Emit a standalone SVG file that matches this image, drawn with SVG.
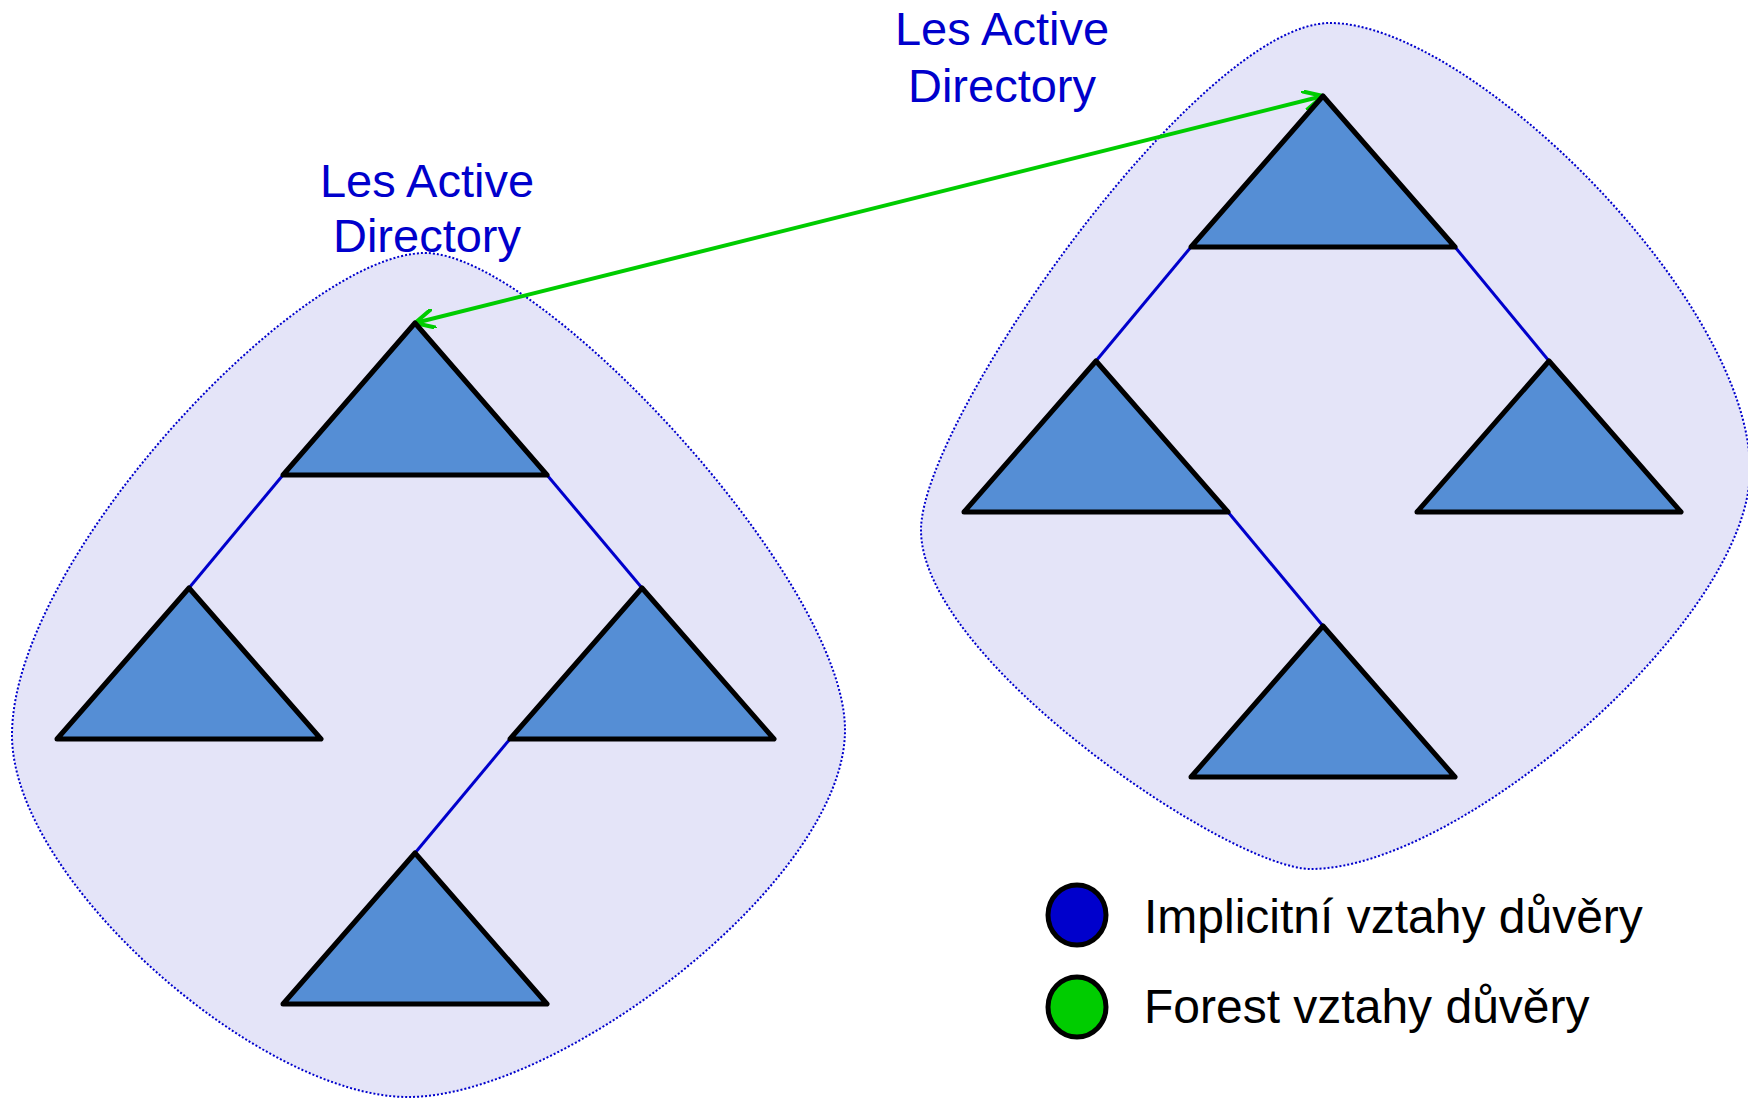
<svg xmlns="http://www.w3.org/2000/svg" width="1748" height="1099" viewBox="0 0 1748 1099">
<style>
.blob{fill:#E4E4F8;stroke:#0000CC;stroke-width:2;stroke-dasharray:2 2}
.tri{fill:#558ED5;stroke:#000;stroke-width:5;stroke-linejoin:round}
.link{stroke:#0000CC;stroke-width:3;fill:none}
.lbl{font-family:"Liberation Sans",Arial,sans-serif;font-size:47px;fill:#0000CC;text-anchor:middle}
.leg{font-family:"Liberation Sans",Arial,sans-serif;font-size:48px;fill:#000}
.dot{stroke:#000;stroke-width:5}
</style>
<defs>
<marker id="vh" viewBox="0 0 22 20" refX="20" refY="10" markerWidth="22" markerHeight="20" markerUnits="userSpaceOnUse" orient="auto-start-reverse">
<path d="M1.5,0.8 L20,10 L1.5,19.2" fill="none" stroke="#00CC00" stroke-width="4" stroke-linecap="round" stroke-linejoin="round"/>
</marker>
</defs>
<g id="forest-left">
<path class="blob" d="M425,253 C540,253 845,580 845,730 C845,880 560,1097 408,1097 C260,1097 12,880 12,735 C12,560 300,253 425,253 Z"/>
</g>
<g id="forest-right">
<path class="blob" d="M1330,23 C1470,23 1750,300 1750,470 C1750,620 1460,869 1311,869 C1230,869 921,660 921,530 C921,420 1200,23 1330,23 Z"/>
</g>
<g id="labels">
<text class="lbl" x="427" y="197">Les Active</text>
<text class="lbl" x="427" y="252">Directory</text>
<text class="lbl" x="1002" y="45">Les Active</text>
<text class="lbl" x="1002" y="102">Directory</text>
</g>
<g id="connectors">
<line class="link" x1="283" y1="475" x2="189" y2="588"/>
<line class="link" x1="547" y1="475" x2="642" y2="588"/>
<line class="link" x1="510" y1="739" x2="415" y2="853"/>
<line class="link" x1="1191" y1="247" x2="1096" y2="361"/>
<line class="link" x1="1455" y1="247" x2="1549" y2="361"/>
<line class="link" x1="1228" y1="512" x2="1323" y2="626"/>
<line x1="415" y1="323" x2="1323" y2="96" stroke="#00CC00" stroke-width="4" marker-start="url(#vh)" marker-end="url(#vh)"/>
</g>
<g id="domain-l1"><polygon class="tri" points="415,323 547,475 283,475"/></g>
<g id="domain-l2"><polygon class="tri" points="189,588 321,739 57,739"/></g>
<g id="domain-l3"><polygon class="tri" points="642,588 774,739 510,739"/></g>
<g id="domain-l4"><polygon class="tri" points="415,853 547,1004 283,1004"/></g>
<g id="domain-r1"><polygon class="tri" points="1323,96 1455,247 1191,247"/></g>
<g id="domain-r2"><polygon class="tri" points="1096,361 1228,512 964,512"/></g>
<g id="domain-r3"><polygon class="tri" points="1549,361 1681,512 1417,512"/></g>
<g id="domain-r4"><polygon class="tri" points="1323,626 1455,777 1191,777"/></g>
<g id="legend">
<ellipse class="dot" cx="1077" cy="915" rx="29" ry="30" fill="#0000CC"/>
<ellipse class="dot" cx="1077" cy="1007" rx="29" ry="30" fill="#00CC00"/>
<text class="leg" x="1144" y="933">Implicitní vztahy důvěry</text>
<text class="leg" x="1144" y="1023">Forest vztahy důvěry</text>
</g>
</svg>
